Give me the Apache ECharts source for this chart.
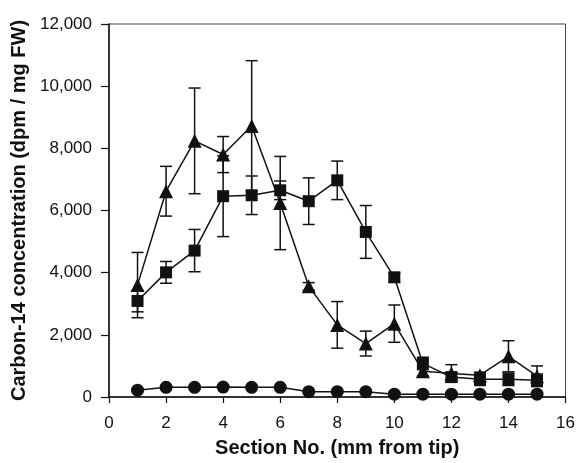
<!DOCTYPE html>
<html>
<head>
<meta charset="utf-8">
<script src="https://cdn.jsdelivr.net/npm/echarts@6/dist/echarts.min.js"></script>
<style>
  html, body { margin: 0; padding: 0; background: #fff; }
  #chart { width: 578px; height: 463px; }
</style>
</head>
<body>
<div id="chart"></div>
<script>
// section numbers (mm from tip)
var sections = [1, 2, 3, 4, 5, 6, 7, 8, 9, 10, 11, 12, 13, 14, 15];
// triangles
var triVals = [3600, 6620, 8240, 7800, 8720, 6240, 3560, 2320, 1720, 2360, 830, 760, 700, 1310, 670];
var triErr  = [1050, 800, 1700, 580, 2100, 1500, 120, 750, 400, 600, 150, 280, 100, 500, 330];
// squares
var sqVals = [3090, 4010, 4710, 6460, 6490, 6650, 6300, 6970, 5310, 3850, 1080, 640, 570, 570, 540];
var sqErr  = [350, 350, 680, 1300, 620, 300, 750, 620, 850, 150, 200, 150, 200, 200, 200];
// circles
var circVals = [220, 310, 310, 320, 310, 310, 170, 170, 170, 90, 90, 90, 90, 90, 90];
var circErr  = [40, 40, 40, 40, 40, 40, 40, 40, 40, 40, 40, 40, 40, 40, 40];

var xMin = 0, xMax = 16, xStep = 2;
var yMin = 0, yMax = 12000, yStep = 2000;

(function () {
    var myChart = echarts.init(document.getElementById('chart'));

    function pts(vals) {
        return sections.map(function (s, i) { return [s, vals[i]]; });
    }
    function errs(vals, e) {
        return sections.map(function (s, i) { return [s, vals[i] - e[i], vals[i] + e[i]]; });
    }
    // error bar drawing
    function errSeries(vals, e) {
        return {
            type: 'custom',
            data: errs(vals, e),
            z: 1,
            silent: true,
            renderItem: function (params, api) {
                var lo = api.coord([api.value(0), api.value(1)]);
                var hi = api.coord([api.value(0), api.value(2)]);
                var w = 6;
                var st = { stroke: '#111', lineWidth: 1.5, fill: null };
                return {
                    type: 'group',
                    children: [
                        { type: 'line', shape: { x1: lo[0], y1: lo[1], x2: hi[0], y2: hi[1] }, style: st },
                        { type: 'line', shape: { x1: lo[0] - w, y1: lo[1], x2: lo[0] + w, y2: lo[1] }, style: st },
                        { type: 'line', shape: { x1: hi[0] - w, y1: hi[1], x2: hi[0] + w, y2: hi[1] }, style: st }
                    ]
                };
            }
        };
    }
    function lineSeries(vals, symbol, size) {
        return {
            type: 'line',
            data: pts(vals),
            symbol: symbol,
            symbolSize: size,
            z: 3,
            lineStyle: { color: '#111', width: 1.5 },
            itemStyle: { color: '#111', borderWidth: 0 }
        };
    }

    var option = {
        animation: false,
        grid: {
            left: 109, right: 8, top: 24, bottom: 62,
            show: true, borderColor: '#444', borderWidth: 1
        },
        xAxis: {
            type: 'value',
            min: xMin, max: xMax, interval: xStep,
            name: 'Section No. (mm from tip)',
            nameLocation: 'middle',
            nameGap: 41,
            nameTextStyle: { fontFamily: 'Liberation Sans', fontWeight: 'bold', fontSize: 20, color: '#111' },
            axisLine: { lineStyle: { color: '#111', width: 1.5 } },
            axisTick: { length: 6, lineStyle: { color: '#111', width: 1.2 } },
            axisLabel: { fontFamily: 'Liberation Sans', fontSize: 17, color: '#111', margin: 18 },
            splitLine: { show: false }
        },
        yAxis: {
            type: 'value',
            min: yMin, max: yMax, interval: yStep,
            name: 'Carbon-14 concentration (dpm / mg FW)',
            nameLocation: 'middle',
            nameGap: 77,
            nameTextStyle: { fontFamily: 'Liberation Sans', fontWeight: 'bold', fontSize: 20, color: '#111' },
            axisLine: { show: true, lineStyle: { color: '#111', width: 1.5 } },
            axisTick: { show: true, length: 8, lineStyle: { color: '#111', width: 1.2 } },
            axisLabel: {
                fontFamily: 'Liberation Sans', fontSize: 17, color: '#111', margin: 17,
                formatter: function (v) { return v.toLocaleString('en-US'); }
            },
            splitLine: { show: false }
        },
        series: [
            errSeries(circVals, circErr),
            errSeries(sqVals, sqErr),
            errSeries(triVals, triErr),
            lineSeries(circVals, 'circle', 13),
            lineSeries(sqVals, 'rect', 12),
            lineSeries(triVals, 'triangle', 14)
        ]
    };
    myChart.setOption(option);
    window.addEventListener('resize', function () {
        myChart.resize();
    });
})();
</script>
</body>
</html>
